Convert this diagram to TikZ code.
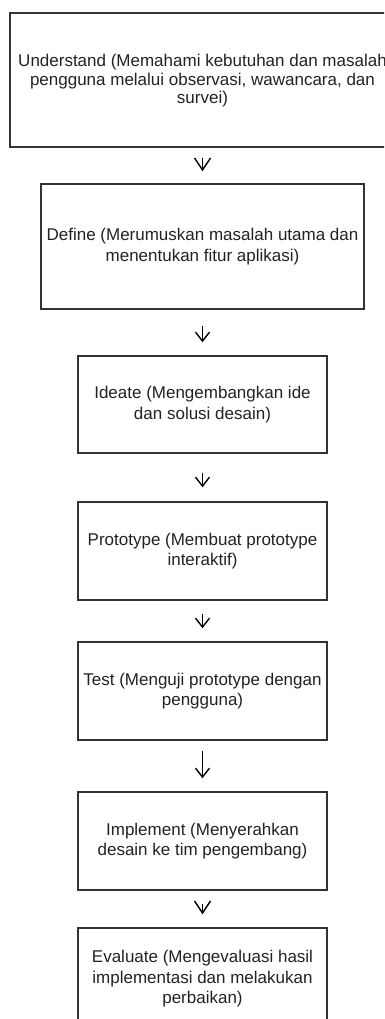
\documentclass[tikz,border=0pt]{standalone}
\usepackage{fontspec}
\setmainfont{Liberation Sans}
\usetikzlibrary{arrows.meta}
\definecolor{edge}{HTML}{333333}
\definecolor{ink}{HTML}{222222}
\tikzset{
  stage/.style={draw=edge, line width=1.5pt, inner sep=0pt, align=center,
    text=ink, font=\fontsize{17}{20.5}\selectfont, minimum width=249pt, minimum height=98pt},
  flow/.style={draw=black, line width=1.4pt, -{Straight Barb[length=9pt,width=14pt]}},
  flowv/.style={draw=black, line width=1.4pt, -{Straight Barb[length=12pt,width=16pt]}},
}
\begin{document}
\begin{tikzpicture}[x=1pt,y=-1pt]
\useasboundingbox (0,0) rectangle (384,1019);
\clip (0,0) rectangle (384,1019);

% design-thinking stages, top to bottom; the first box runs past the right edge
\node[stage, align=none, minimum width=460pt, minimum height=134pt, font=\fontsize{17}{18.7}\selectfont]
  (und) at (240,80) {\begin{tabular}{@{}c@{}}\rule{0pt}{16pt}Understand (Memahami kebutuhan dan masalah\\pengguna melalui observasi, wawancara, dan\\survei)\end{tabular}\hspace*{75pt}};
\node[stage, minimum width=323pt, minimum height=125pt]
  (def) at (202.5,246.5) {Define (Merumuskan masalah utama dan\\menentukan fitur aplikasi)};
\node[stage, minimum height=97pt]
  (ide) at (202.5,404.5) {Ideate (Mengembangkan ide\\dan solusi desain)};
\node[stage] (pro) at (202.5,551) {Prototype (Membuat prototype\\interaktif)};
\node[stage] (tes) at (202.5,691) {Test (Menguji prototype dengan\\pengguna)};
\node[stage] (imp) at (202.5,841) {Implement (Menyerahkan\\desain ke tim pengembang)};
\node[stage, minimum height=102pt]
  (eva) at (202.5,979) {Evaluate (Mengevaluasi hasil\\implementasi dan melakukan\\perbaikan)};

% arrows between the stages
\draw[flowv, shorten <=10pt, shorten >=12pt] (und.south -| def) -- (def);
\draw[flow, shorten <=16pt, shorten >=13pt] (def) -- (ide);
\draw[flow, shorten <=19pt, shorten >=14pt] (ide) -- (pro);
\draw[flow, shorten <=13pt, shorten >=13pt] (pro) -- (tes);
\draw[flow, shorten <=10pt, shorten >=13pt] (tes) -- (imp);
\draw[flowv, shorten <=13pt, shorten >=13pt] (imp) -- (eva);
\end{tikzpicture}
\end{document}
